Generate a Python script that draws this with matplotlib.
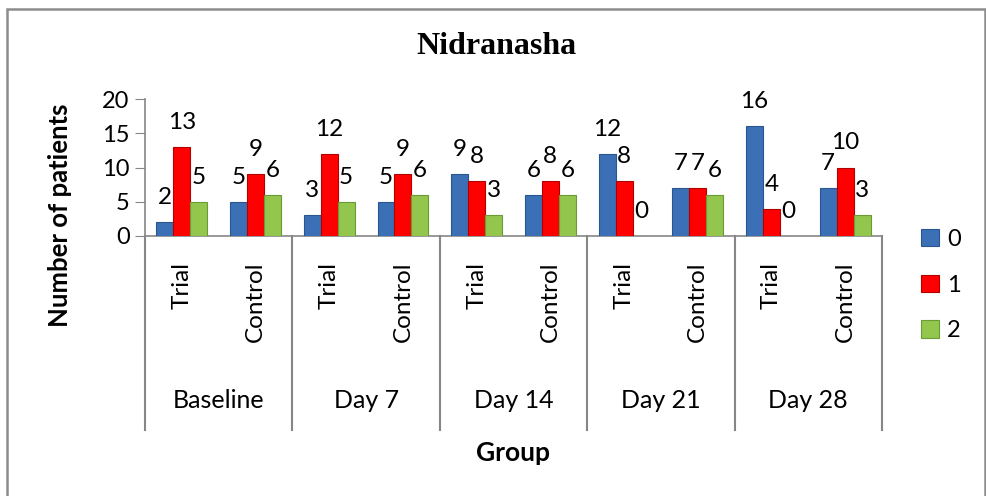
import matplotlib
matplotlib.use('Agg')
import matplotlib.pyplot as plt
import matplotlib.patches as patches
from matplotlib.transforms import blended_transform_factory
import numpy as np

plt.rcParams['font.family'] = ['Lato', 'DejaVu Sans']

groups = ['Baseline', 'Day 7', 'Day 14', 'Day 21', 'Day 28']
subgroups = ['Trial', 'Control']
grade0 = [2, 5, 3, 5, 9, 6, 12, 7, 16, 7]
grade1 = [13, 9, 12, 9, 8, 8, 8, 7, 4, 10]
grade2 = [5, 6, 5, 6, 3, 6, 0, 6, 0, 3]
series_names = ['0', '1', '2']
colors = ['#3b70b6', '#ff0000', '#92c64d']
edges = ['#2a558e', '#b00000', '#6c9a35']

W, H = 987, 496
fig = plt.figure(figsize=(W / 100, H / 100), dpi=100)

# axes placement in pixels
x0, x1 = 145, 882
y0, y20 = 236, 99
ax = fig.add_axes([x0 / W, 1 - y0 / H, (x1 - x0) / W, (y0 - y20) / H])

x = np.arange(len(grade0))
bw = 0.23
all_vals = [grade0, grade1, grade2]
handles = []
for i, vals in enumerate(all_vals):
    b = ax.bar(x + (i - 1) * bw, vals, bw, color=colors[i], edgecolor=edges[i],
               linewidth=0.8, label=series_names[i], zorder=3)
    handles.append(b)
    for xi, v in zip(x + (i - 1) * bw, vals):
        ax.annotate(str(v), (xi, v), xytext=(0, 13), textcoords='offset points',
                    ha='center', va='baseline', fontsize=17.5)

ax.set_xlim(-0.5, len(x) - 0.5)
ax.set_ylim(0, 20)
ax.set_yticks([0, 5, 10, 15, 20])
ax.tick_params(axis='y', labelsize=17, direction='out', length=7, color='#868686', pad=4)
ax.set_xticks([])
for s in ['top', 'right']:
    ax.spines[s].set_visible(False)
for s in ['left', 'bottom']:
    ax.spines[s].set_color('#868686')
    ax.spines[s].set_linewidth(1.2)

# multi-level category axis
tr = blended_transform_factory(ax.transData, fig.transFigure)
for xi in x:
    ax.text(xi, 1 - 262 / H, subgroups[xi % 2], transform=tr, rotation=90,
            ha='center', va='top', fontsize=17.5)
for gi, g in enumerate(groups):
    ax.text(2 * gi + 0.5, 1 - 400 / H, g, transform=tr, ha='center', va='center', fontsize=18)
for b in np.arange(-0.5, len(x), 2):
    ax.plot([b, b], [1 - y0 / H, 1 - 430 / H], transform=tr, color='#868686',
            lw=1.5, clip_on=False)

fig.text(513 / W, 1 - 453 / H, 'Group', ha='center', va='center', fontsize=19, fontweight='bold')
fig.text(60 / W, 1 - 215 / H, 'Number of patients', ha='center', va='center',
         rotation=90, fontsize=18.5, fontweight='bold')
fig.text(496 / W, 1 - 47 / H, 'Nidranasha', ha='center', va='center', fontsize=23,
         fontweight='bold', family=['Liberation Serif', 'DejaVu Serif'])

fig.legend(handles=handles, labels=series_names, loc='center left',
           bbox_to_anchor=(921 / W, 1 - 285 / H), frameon=False, fontsize=17,
           handlelength=0.75, handleheight=0.75, handletextpad=0.35,
           labelspacing=1.05, borderpad=0, borderaxespad=0)

frame = patches.Rectangle((7 / W, -0.05), (985 - 7) / W, 1.05 - 9 / H,
                          transform=fig.transFigure, fill=False,
                          edgecolor='#8c8c8c', linewidth=1.8, clip_on=False)
fig.patches.append(frame)

fig.savefig('out.png', dpi=100)
